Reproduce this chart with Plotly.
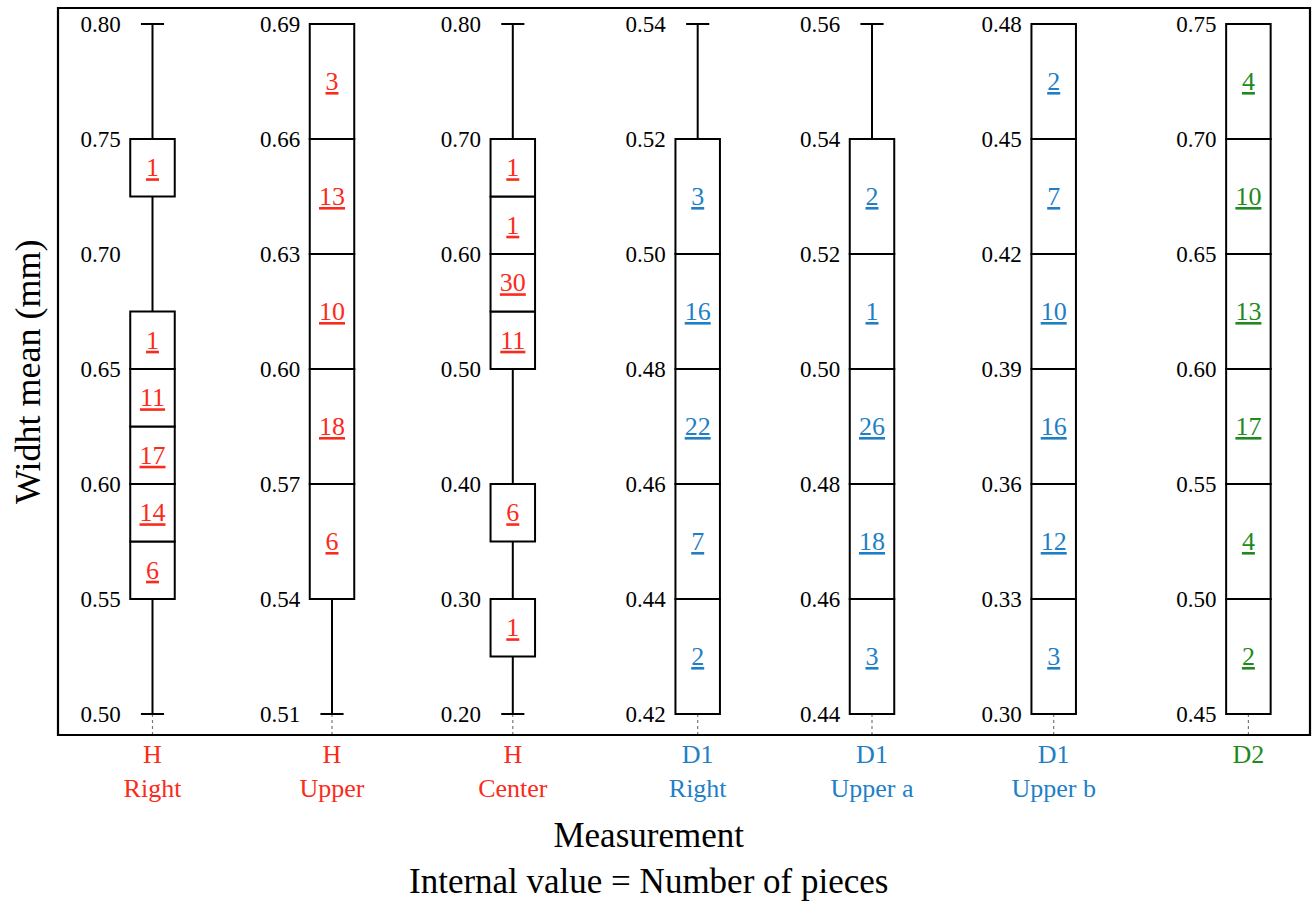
import plotly.graph_objects as go

# ---------------- data ----------------
categories = ["H<br>Right", "H<br>Upper", "H<br>Center",
              "D1<br>Right", "D1<br>Upper a", "D1<br>Upper b", "D2"]
category_colors = ["#fb2b1c", "#fb2b1c", "#fb2b1c",
                   "#1f7fc6", "#1f7fc6", "#1f7fc6", "#1e8a1e"]

# whisker extents (min / max of each measurement)
whisker_min = [0.50, 0.51, 0.20, 0.42, 0.44, 0.30, 0.45]
whisker_max = [0.80, 0.69, 0.80, 0.54, 0.56, 0.48, 0.75]

# H Right
h_right_lo = [0.550, 0.575, 0.600, 0.625, 0.650, 0.725]
h_right_hi = [0.575, 0.600, 0.625, 0.650, 0.675, 0.750]
h_right_n = [6, 14, 17, 11, 1, 1]
h_right_ticks = [0.50, 0.55, 0.60, 0.65, 0.70, 0.75, 0.80]

# H Upper
h_upper_lo = [0.54, 0.57, 0.60, 0.63, 0.66]
h_upper_hi = [0.57, 0.60, 0.63, 0.66, 0.69]
h_upper_n = [6, 18, 10, 13, 3]
h_upper_ticks = [0.51, 0.54, 0.57, 0.60, 0.63, 0.66, 0.69]

# H Center
h_center_lo = [0.25, 0.35, 0.50, 0.55, 0.60, 0.65]
h_center_hi = [0.30, 0.40, 0.55, 0.60, 0.65, 0.70]
h_center_n = [1, 6, 11, 30, 1, 1]
h_center_ticks = [0.20, 0.30, 0.40, 0.50, 0.60, 0.70, 0.80]

# D1 Right
d1_right_lo = [0.42, 0.44, 0.46, 0.48, 0.50]
d1_right_hi = [0.44, 0.46, 0.48, 0.50, 0.52]
d1_right_n = [2, 7, 22, 16, 3]
d1_right_ticks = [0.42, 0.44, 0.46, 0.48, 0.50, 0.52, 0.54]

# D1 Upper a
d1_uppera_lo = [0.44, 0.46, 0.48, 0.50, 0.52]
d1_uppera_hi = [0.46, 0.48, 0.50, 0.52, 0.54]
d1_uppera_n = [3, 18, 26, 1, 2]
d1_uppera_ticks = [0.44, 0.46, 0.48, 0.50, 0.52, 0.54, 0.56]

# D1 Upper b
d1_upperb_lo = [0.30, 0.33, 0.36, 0.39, 0.42, 0.45]
d1_upperb_hi = [0.33, 0.36, 0.39, 0.42, 0.45, 0.48]
d1_upperb_n = [3, 12, 16, 10, 7, 2]
d1_upperb_ticks = [0.30, 0.33, 0.36, 0.39, 0.42, 0.45, 0.48]

# D2
d2_lo = [0.45, 0.50, 0.55, 0.60, 0.65, 0.70]
d2_hi = [0.50, 0.55, 0.60, 0.65, 0.70, 0.75]
d2_n = [2, 4, 17, 13, 10, 4]
d2_ticks = [0.45, 0.50, 0.55, 0.60, 0.65, 0.70, 0.75]

columns = [
    (h_right_lo, h_right_hi, h_right_n, h_right_ticks),
    (h_upper_lo, h_upper_hi, h_upper_n, h_upper_ticks),
    (h_center_lo, h_center_hi, h_center_n, h_center_ticks),
    (d1_right_lo, d1_right_hi, d1_right_n, d1_right_ticks),
    (d1_uppera_lo, d1_uppera_hi, d1_uppera_n, d1_uppera_ticks),
    (d1_upperb_lo, d1_upperb_hi, d1_upperb_n, d1_upperb_ticks),
    (d2_lo, d2_hi, d2_n, d2_ticks),
]

# ---------------- layout geometry (pixels) ----------------
W, H = 1312, 901
plot_left, plot_right = 58, 1310
plot_top, plot_bottom = 22, 716
data_top, data_bottom = 24, 714
frame_top, frame_bottom = 8, 735
col_centers = [152.5, 332, 512.8, 697.7, 872, 1053.7, 1248.4]
box_w = 44.5
dom_w = box_w + 6
pw = plot_right - plot_left
ph = plot_bottom - plot_top
FONT = "Liberation Serif"
cap_half = 0.26

fig = go.Figure()
layout = {}
shapes = []

for i, (lo_l, hi_l, n_l, ticks) in enumerate(columns):
    k = "" if i == 0 else str(i + 1)
    xa, ya = "x" + k, "y" + k
    col = category_colors[i]

    # boxes (one per bin)
    fig.add_trace(go.Bar(
        x=[0] * len(n_l), base=lo_l, y=[h - l for l, h in zip(lo_l, hi_l)],
        width=1, xaxis=xa, yaxis=ya,
        marker=dict(color="white", line=dict(color="black", width=2)),
        text=[f"<u>{n}</u>" for n in n_l], textposition="inside",
        insidetextanchor="middle", textangle=0, constraintext="none",
        textfont=dict(family=FONT, size=26, color=col),
        showlegend=False, hoverinfo="skip", cliponaxis=False,
    ))

    # whiskers: parts of [min, max] not covered by a box
    wmin, wmax = whisker_min[i], whisker_max[i]
    segs = []
    cur = wmin
    for l, h in sorted(zip(lo_l, hi_l)):
        if l > cur + 1e-9:
            segs.append((cur, l))
        cur = max(cur, h)
    if cur < wmax - 1e-9:
        segs.append((cur, wmax))
    xs, ys = [], []
    for a, b in segs:
        xs += [0, 0, None]
        ys += [a, b, None]
    if segs and abs(segs[0][0] - wmin) < 1e-9:
        xs += [-cap_half, cap_half, None]
        ys += [wmin, wmin, None]
    if segs and abs(segs[-1][1] - wmax) < 1e-9:
        xs += [-cap_half, cap_half, None]
        ys += [wmax, wmax, None]
    if xs:
        fig.add_trace(go.Scatter(
            x=xs, y=ys, mode="lines", xaxis=xa, yaxis=ya,
            line=dict(color="black", width=2),
            showlegend=False, hoverinfo="skip",
        ))

    # axes
    c = col_centers[i]
    d0 = (c - dom_w / 2 - plot_left) / pw
    d1 = (c + dom_w / 2 - plot_left) / pw
    half = 0.5 * dom_w / box_w
    lo, hi = ticks[0], ticks[-1]
    upp = (hi - lo) / (data_bottom - data_top)
    layout["xaxis" + k] = dict(
        domain=[d0, d1], range=[-half, half], anchor=ya,
        tickvals=[0], ticktext=[categories[i]],
        tickfont=dict(family=FONT, size=26, color=col),
        ticks="outside", ticklen=15, tickcolor="rgba(0,0,0,0)",
        showgrid=False, zeroline=False, showline=False, fixedrange=True,
        automargin=False,
    )
    layout["yaxis" + k] = dict(
        domain=[0, 1],
        range=[lo - upp * (data_top - plot_top), hi + upp * (plot_bottom - data_bottom)],
        anchor=xa, tickvals=ticks, ticktext=[f"{t:.2f}" for t in ticks],
        tickfont=dict(family=FONT, size=23, color="black"),
        ticks="outside", ticklen=1, tickcolor="rgba(0,0,0,0)",
        showgrid=False, zeroline=False, showline=False, fixedrange=True,
        automargin=False,
    )
    # dashed tick below each column
    shapes.append(dict(
        type="line", xref=xa, yref="paper", x0=0, x1=0,
        y0=(plot_bottom - data_bottom) / ph, y1=-(frame_bottom - plot_bottom) / ph,
        line=dict(color="#777777", width=1.2, dash="dot"), layer="below",
    ))

# outer frame
shapes.append(dict(
    type="rect", xref="paper", yref="paper",
    x0=0, x1=1,
    y0=-(frame_bottom - plot_bottom) / ph, y1=1 + (plot_top - frame_top) / ph,
    line=dict(color="black", width=2.2), fillcolor="rgba(0,0,0,0)",
))

annotations = [
    dict(text="Widht mean (mm)", textangle=-90, showarrow=False,
         xref="paper", yref="paper", x=(28 - plot_left) / pw, y=(plot_bottom - 372) / ph,
         xanchor="center", yanchor="middle",
         font=dict(family=FONT, size=36, color="black")),
    dict(text="Measurement<br>Internal value = Number of pieces", showarrow=False,
         xref="paper", yref="paper", x=(648 - plot_left) / pw, y=(plot_bottom - 858) / ph,
         xanchor="center", yanchor="middle",
         font=dict(family=FONT, size=35, color="black")),
]

fig.update_layout(
    width=W, height=H, autosize=False,
    margin=dict(l=plot_left, r=W - plot_right, t=plot_top, b=H - plot_bottom,
                pad=0, autoexpand=False),
    paper_bgcolor="white", plot_bgcolor="white",
    barmode="overlay", showlegend=False,
    font=dict(family=FONT, color="black"),
    shapes=shapes, annotations=annotations,
    **layout,
)

fig.write_html(
    "out.html",
    config={"displayModeBar": False, "responsive": False},
    post_script="document.body.style.margin='0';document.body.style.overflow='hidden';",
)
